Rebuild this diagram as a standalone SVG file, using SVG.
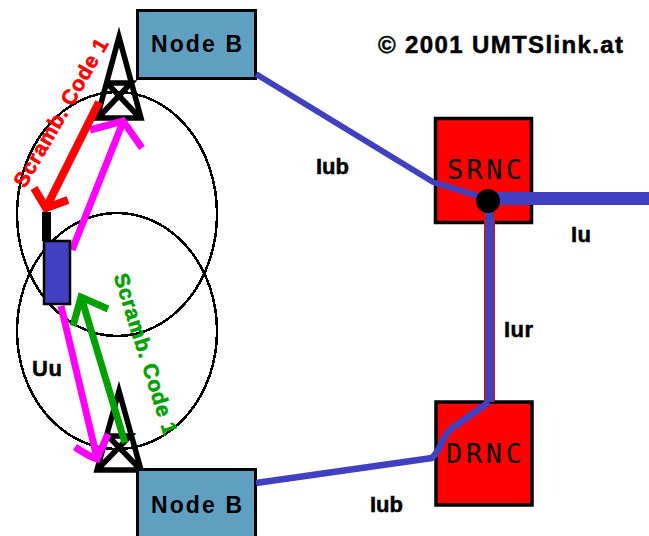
<svg xmlns="http://www.w3.org/2000/svg" width="649" height="536" viewBox="0 0 649 536">
<defs>
<style>
.cell{fill:none;stroke:#000;stroke-width:2.5}
.tw{fill:none;stroke:#000;stroke-width:5.5;stroke-linejoin:miter}
.nb{fill:#5f9fc0;stroke:#000;stroke-width:3}
.rnc{fill:#f00;stroke:#000;stroke-width:3.5}
.nbt{font:bold 23px "Liberation Sans",Arial,sans-serif;fill:#000}
.rt{font:27px "DejaVu Sans Mono","Liberation Mono",monospace;fill:#000}
.lb{font:bold 22px "Liberation Sans",Arial,sans-serif;fill:#000;stroke:#000;stroke-width:.5}
.sc{font:bold 21px "Liberation Sans",Arial,sans-serif;stroke-width:.6}
.ar{fill:none;stroke-linejoin:miter;stroke-linecap:butt}
.m{stroke:#f0f;stroke-width:7}
.r{stroke:#f00;stroke-width:8}
.g{stroke:#00a000;stroke-width:7}
.bl{fill:none;stroke:#4040c0;stroke-linejoin:round}
</style>
</defs>
<rect width="649" height="536" fill="#fff"/>
<g id="cells" shape-rendering="crispEdges">
<ellipse class="cell" cx="117" cy="214" rx="100" ry="122"/>
<ellipse class="cell" cx="117" cy="331" rx="100" ry="118"/>
</g>
<g id="tower-1">
<path class="tw" d="M119 37 L97 118 H141 Z M107 83 H131 L98 118 M107 83 L140 118"/>
</g>
<g id="tower-2">
<path class="tw" d="M119 391 L97 470 H141 Z M108 436 H130 L98 469 M108 436 L140 469"/>
</g>
<g id="node-b-1">
<rect class="nb" x="137.500" y="10.500" width="118" height="68"/>
<text class="nbt" x="151" y="52" textLength="91">Node B</text>
</g>
<g id="node-b-2">
<rect class="nb" x="137.500" y="469.500" width="118" height="70"/>
<text class="nbt" x="151" y="513" textLength="91">Node B</text>
</g>
<g id="srnc">
<rect class="rnc" x="435.500" y="118.500" width="96" height="104"/>
<text class="rt" x="447" y="179" textLength="75">SRNC</text>
</g>
<g id="drnc">
<rect class="rnc" x="436" y="402" width="96" height="103"/>
<text class="rt" x="446" y="463" textLength="76">DRNC</text>
</g>
<g id="connectors">
<path d="M489.500 212 V402" fill="none" stroke="#c02000" stroke-width="11"/>
<path class="bl" stroke-width="8" d="M489.500 212 V402"/>
<path class="bl" stroke-width="6" d="M256 74 L433 182 L478 196"/>
<path class="bl" stroke-width="13" d="M495 198.500 H649"/>
<path class="bl" stroke-width="6.500" d="M256 483 L432 458 Q438 452 442 442 Q447 430 458 424 L489 402"/>
<path class="ar m" d="M72 250 L123 122"/>
<path class="ar m" d="M90 130 L123 121 L142 148"/>
<path class="ar m" d="M61 306 L97 458"/>
<path class="ar m" d="M75 447 Q88 456 97 459 L108 434"/>
<path class="ar r" d="M99 102 L46 208"/>
<path class="ar r" d="M34 188 L46 208 L68 200"/>
<path class="ar g" d="M125 443 L82 300"/>
<path class="ar g" d="M73 326 L81 297 L108 309"/>
</g>
<g id="junction"><circle cx="488" cy="201" r="12" fill="#000"/></g>
<g id="mobile">
<rect x="42" y="212" width="9" height="29" fill="#000"/>
<rect x="44" y="241" width="26" height="63" fill="#4040c0" stroke="#000" stroke-width="2.500"/>
</g>
<g id="labels">
<text class="sc" fill="#f00" stroke="#f00" transform="translate(25 189) rotate(-60)" textLength="168">Scramb. Code 1</text>
<text class="sc" fill="#00a000" stroke="#00a000" transform="translate(113.500 276) rotate(72.500)" textLength="168">Scramb. Code 1</text>
<text class="lb" x="316" y="174" textLength="33">Iub</text>
<text class="lb" x="571" y="242" textLength="20">Iu</text>
<text class="lb" x="504" y="337" textLength="29">Iur</text>
<text class="lb" x="370" y="512" textLength="33">Iub</text>
<text class="lb" x="32" y="376" textLength="30">Uu</text>
<text x="378" y="53" font-family="Liberation Sans,Arial,sans-serif" font-weight="bold" font-size="24" fill="#000" stroke="#000" stroke-width=".5" textLength="245">© 2001 UMTSlink.at</text>
</g>
</svg>
